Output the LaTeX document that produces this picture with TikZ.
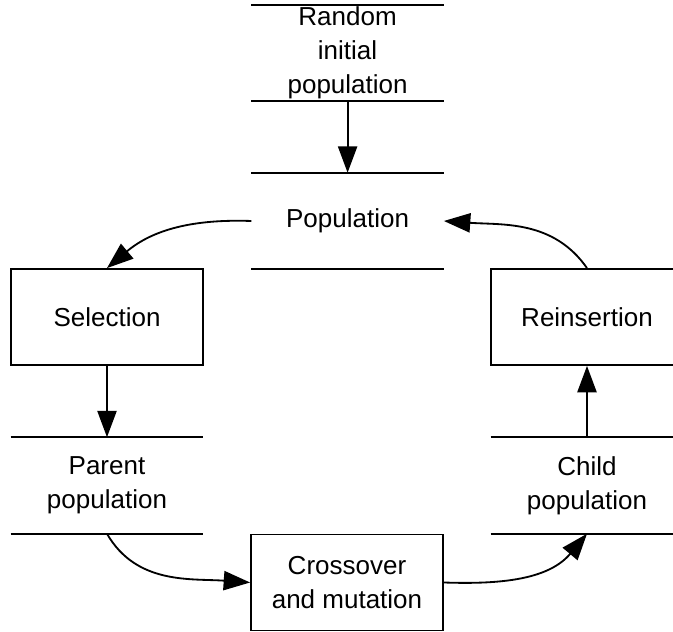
\documentclass[tikz,border=0pt]{standalone}
\usepackage{fontspec}
\setmainfont{Liberation Sans}
\usetikzlibrary{arrows.meta, positioning}
\definecolor{flow-line}{HTML}{000000}
\tikzset{
  process/.style={
    draw=flow-line, line width=1.3pt,
    minimum width=4.8cm, minimum height=2.4cm, align=center,
    font=\fontsize{18.5}{24}\selectfont, inner sep=0pt
  },
  store/.style={
    minimum width=4.8cm, minimum height=2.4cm, align=center,
    font=\fontsize{18.5}{24}\selectfont, inner sep=0pt
  },
  storeline/.style={draw=flow-line, line width=1.3pt},
  flow/.style={draw=flow-line, line width=1.3pt,
    -{Triangle[length=0.66cm, width=0.48cm]}}
}

\begin{document}
\begin{tikzpicture}
  \clip (0,0) rectangle (16.825,15.8);

  % ---- Data stores ---------------------------------------------------------
  \node[store] (init) at (8.69, 14.475) {Random\\initial\\population};
  \node[store] (pop)  at (8.69, 10.275) {Population};
  \node[store] (par)  at (2.675, 3.6625) {Parent\\population};
  \node[store] (chi)  at (14.675, 3.6625) {Child\\population};
  \foreach \n in {init, pop, par, chi} {
    \draw[storeline] (\n.north west) -- (\n.north east)
                     (\n.south west) -- (\n.south east);
  }

  % ---- Processes -----------------------------------------------------------
  \node[process] (sel)   at (2.675, 7.875)  {Selection};
  \node[process] (reins) at (14.675, 7.875) {Reinsertion};
  \node[process] (cross) at (8.675, 1.2375) {Crossover\\and mutation};

  % ---- Flows ---------------------------------------------------------------
  \draw[flow] (init.south) -- (pop.north);
  \draw[flow] (pop.west) to[out=178, in=40] (sel.north);
  \draw[flow] (sel.south) -- (par.north);
  \draw[flow] (par.south) to[out=-60, in=176] (cross.west);
  \draw[flow] (cross.east) to[out=-2, in=-130] (chi.south);
  \draw[flow] (chi.north) -- (reins.south);
  \draw[flow] (reins.north) to[out=125, in=-4] (pop.east);

\end{tikzpicture}
\end{document}
